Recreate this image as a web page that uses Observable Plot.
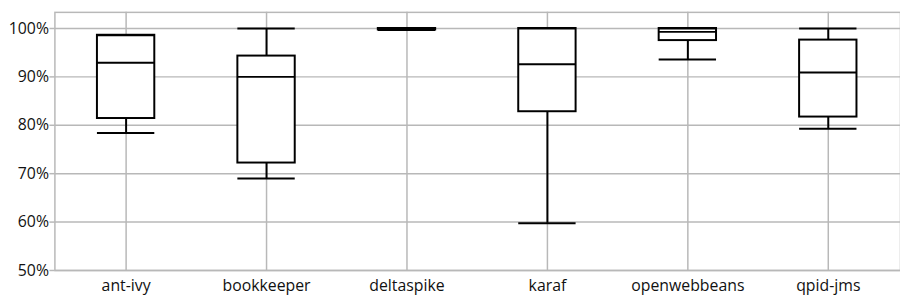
<!DOCTYPE html>
<html>
<head>
<meta charset="utf-8">
<script src="https://cdn.jsdelivr.net/npm/d3@7"></script>
<script src="https://cdn.jsdelivr.net/npm/@observablehq/plot@0.6"></script>
<style>
  html, body { margin: 0; padding: 0; background: #fff; overflow: hidden; }
  #chart svg { display: block; }
</style>
</head>
<body>
<div id="chart"></div>
<script>
const categories = ["ant-ivy", "bookkeeper", "deltaspike", "karaf", "openwebbeans", "qpid-jms"];
const minV   = [78.4, 69.0, 99.7, 59.75, 93.6, 79.3];
const q1V    = [81.4, 72.2, 99.7, 82.8, 97.5, 81.7];
const medV   = [92.9, 90.0, 99.85, 92.6, 99.3, 90.9];
const q3V    = [98.6, 94.3, 100, 100, 100, 97.6];
const maxV   = [98.6, 100, 100, 100, 100, 100];
const yTicks = [50, 60, 70, 80, 90, 100];

const data = categories.map((c, i) => ({
  cat: c, min: minV[i], q1: q1V[i], med: medV[i], q3: q3V[i], max: maxV[i]
}));

const gridColor = "#b8b8b8";

const chart = Plot.plot({
  width: 910,
  height: 302,
  marginLeft: 55,
  marginRight: 0,
  marginTop: 12,
  marginBottom: 29,
  style: { fontFamily: "'Open Sans', sans-serif", fontSize: "16px", color: "#111", background: "#fff" },
  x: { domain: categories, paddingInner: 0.59, paddingOuter: 0.295, label: null },
  y: { domain: [50, 103.33], label: null },
  marks: [
    Plot.gridY(yTicks, { stroke: gridColor, strokeOpacity: 1, strokeWidth: 1.5 }),
    Plot.gridX(categories, { stroke: gridColor, strokeOpacity: 1, strokeWidth: 1.5 }),
    Plot.frame({ stroke: gridColor, strokeWidth: 1.5 }),
    Plot.axisY(yTicks, { tickFormat: d => d + "%", tickSize: 5, tickPadding: 1, stroke: gridColor, strokeWidth: 1.5, fill: "#111", fontSize: 16, label: null }),
    Plot.axisX({ tickSize: 0, tickPadding: 9, fill: "#111", fontSize: 16, label: null }),
    Plot.ruleX(data, { x: "cat", y1: "min", y2: "q1", stroke: "black", strokeWidth: 2 }),
    Plot.ruleX(data, { x: "cat", y1: "q3", y2: "max", stroke: "black", strokeWidth: 2 }),
    Plot.barY(data, { x: "cat", y1: "q1", y2: "q3", fill: "white", stroke: "black", strokeWidth: 2 }),
    Plot.tickY(data, { x: "cat", y: "med", stroke: "black", strokeWidth: 2 }),
    Plot.tickY(data, { x: "cat", y: "min", stroke: "black", strokeWidth: 2 }),
    Plot.tickY(data, { x: "cat", y: "max", stroke: "black", strokeWidth: 2 })
  ]
});
document.getElementById("chart").appendChild(chart);
</script>
</body>
</html>
